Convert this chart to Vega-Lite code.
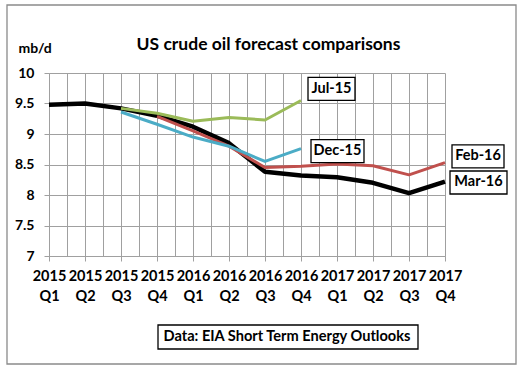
{
  "$schema": "https://vega.github.io/schema/vega-lite/v6.json",
  "width": 396,
  "height": 183,
  "autosize": {"type": "none"},
  "padding": {"left": 49, "top": 73, "right": 79, "bottom": 116},
  "background": "white",
  "title": {"text": "US crude oil forecast comparisons", "font": "Lato", "fontSize": 17.5, "fontWeight": "bold", "color": "black", "anchor": "middle", "frame": "group", "dx": 21.5, "baseline": "alphabetic", "offset": -65},
  "config": {"view": {"stroke": null}, "font": "Lato"},
  "datasets": {
    "forecasts": [
      {"series": "Mar-16", "period": 2015, "mbd": 9.48},
      {"series": "Mar-16", "period": 2015.25, "mbd": 9.5},
      {"series": "Mar-16", "period": 2015.5, "mbd": 9.42},
      {"series": "Mar-16", "period": 2015.75, "mbd": 9.3},
      {"series": "Mar-16", "period": 2016, "mbd": 9.12},
      {"series": "Mar-16", "period": 2016.25, "mbd": 8.85},
      {"series": "Mar-16", "period": 2016.5, "mbd": 8.38},
      {"series": "Mar-16", "period": 2016.75, "mbd": 8.32},
      {"series": "Mar-16", "period": 2017, "mbd": 8.29},
      {"series": "Mar-16", "period": 2017.25, "mbd": 8.2},
      {"series": "Mar-16", "period": 2017.5, "mbd": 8.03},
      {"series": "Mar-16", "period": 2017.75, "mbd": 8.22},
      {"series": "Feb-16", "period": 2015.75, "mbd": 9.29},
      {"series": "Feb-16", "period": 2016, "mbd": 9.05},
      {"series": "Feb-16", "period": 2016.25, "mbd": 8.8},
      {"series": "Feb-16", "period": 2016.5, "mbd": 8.45},
      {"series": "Feb-16", "period": 2016.75, "mbd": 8.47},
      {"series": "Feb-16", "period": 2017, "mbd": 8.51},
      {"series": "Feb-16", "period": 2017.25, "mbd": 8.48},
      {"series": "Feb-16", "period": 2017.5, "mbd": 8.33},
      {"series": "Feb-16", "period": 2017.75, "mbd": 8.53},
      {"series": "Dec-15", "period": 2015.5, "mbd": 9.36},
      {"series": "Dec-15", "period": 2015.75, "mbd": 9.16},
      {"series": "Dec-15", "period": 2016, "mbd": 8.95},
      {"series": "Dec-15", "period": 2016.25, "mbd": 8.8},
      {"series": "Dec-15", "period": 2016.5, "mbd": 8.55},
      {"series": "Dec-15", "period": 2016.75, "mbd": 8.76},
      {"series": "Jul-15", "period": 2015.5, "mbd": 9.42},
      {"series": "Jul-15", "period": 2015.75, "mbd": 9.34},
      {"series": "Jul-15", "period": 2016, "mbd": 9.21},
      {"series": "Jul-15", "period": 2016.25, "mbd": 9.27},
      {"series": "Jul-15", "period": 2016.5, "mbd": 9.23},
      {"series": "Jul-15", "period": 2016.75, "mbd": 9.55}
    ],
    "notes": [{"note": "Data: EIA Short Term Energy Outlooks"}]
  },
  "layer": [
    {
      "data": {"name": "notes"},
      "mark": {"type": "point", "shape": "M-1.41783,-1H1.41783V1H-1.41783Z", "size": 128881, "filled": false, "stroke": "#8a8a8a", "strokeWidth": 1.3, "opacity": 1, "xOffset": 14.5, "yOffset": 20}
    },
    {
      "data": {"name": "notes"},
      "mark": {"type": "point", "shape": "M-10.833,-1H10.833V1H-10.833Z", "size": 576, "filled": true, "fill": "white", "stroke": "black", "strokeWidth": 1.3, "opacity": 1, "xOffset": 41, "yOffset": 172.5}
    },
    {
      "data": {"name": "notes"},
      "mark": {"type": "text", "font": "Lato", "fontSize": 14.6, "fontWeight": "bold", "color": "black", "align": "center", "baseline": "middle", "dx": 40, "dy": 172.5},
      "encoding": {"text": {"field": "note"}}
    },
    {
      "data": {"name": "forecasts"},
      "encoding": {
        "x": {
          "field": "period", "type": "quantitative",
          "scale": {"domain": [2015, 2017.75], "nice": false, "zero": false},
          "axis": {
            "values": [2015, 2015.125, 2015.25, 2015.375, 2015.5, 2015.625, 2015.75, 2015.875, 2016, 2016.125, 2016.25, 2016.375, 2016.5, 2016.625, 2016.75, 2016.875, 2017, 2017.125, 2017.25, 2017.375, 2017.5, 2017.625, 2017.75],
            "grid": true, "gridColor": "#a0a0a0", "gridWidth": 1,
            "domainColor": "#a0a0a0", "tickColor": "#a0a0a0", "tickSize": 5,
            "tickOpacity": {"condition": {"test": "(datum.value * 4) % 1 != 0", "value": 0}, "value": 1},
            "labelExpr": "(datum.value * 4) % 1 != 0 ? '' : [format(floor(datum.value), 'd'), 'Q' + (round(datum.value * 4) % 4 + 1)]",
            "labelFont": "Lato", "labelFontSize": 14.5, "labelFontWeight": "bold", "labelColor": "black",
            "labelLineHeight": 20, "labelPadding": 8, "labelOverlap": false, "labelFlush": false, "labelBound": false,
            "title": null
          }
        },
        "y": {
          "field": "mbd", "type": "quantitative",
          "scale": {"domain": [7, 10], "nice": false, "zero": false},
          "axis": {
            "values": [7, 7.5, 8, 8.5, 9, 9.5, 10], "format": "~g",
            "grid": true, "gridColor": "#a0a0a0", "gridWidth": 1,
            "domainColor": "#a0a0a0", "tickColor": "#a0a0a0", "tickSize": 5,
            "labelFont": "Lato", "labelFontSize": 14, "labelFontWeight": "bold", "labelColor": "black", "labelPadding": 10,
            "title": "mb/d", "titleAngle": 0, "titleX": -31, "titleY": -21, "titleAlign": "left", "titleBaseline": "alphabetic",
            "titleFont": "Lato", "titleFontSize": 14, "titleFontWeight": "bold", "titleColor": "black"
          }
        }
      },
      "layer": [
        {
          "mark": {"type": "line", "strokeJoin": "round"},
          "encoding": {
            "color": {"field": "series", "type": "nominal", "scale": {"domain": ["Mar-16", "Feb-16", "Dec-15", "Jul-15"], "range": ["#000000", "#C0504D", "#4BACC6", "#9BBB59"]}, "legend": null},
            "strokeWidth": {"condition": {"test": "datum.series == 'Mar-16'", "value": 4.5}, "value": 3}
          }
        },
        {
          "transform": [{"filter": "datum.series == 'Jul-15' && datum.period == 2016.75"}],
          "layer": [
            {"mark": {"type": "point", "shape": "M-2.043,-1H2.043V1H-2.043Z", "size": 529, "filled": true, "fill": "white", "stroke": "black", "strokeWidth": 1.3, "opacity": 1, "xOffset": 30.5, "yOffset": -11.5}},
            {"mark": {"type": "text", "font": "Lato", "fontSize": 14.5, "fontWeight": "bold", "color": "black", "align": "center", "baseline": "middle", "dx": 30.5, "dy": -11.5}, "encoding": {"text": {"field": "series"}}}
          ]
        },
        {
          "transform": [{"filter": "datum.series == 'Dec-15' && datum.period == 2016.75"}],
          "layer": [
            {"mark": {"type": "point", "shape": "M-2.304,-1H2.304V1H-2.304Z", "size": 529, "filled": true, "fill": "white", "stroke": "black", "strokeWidth": 1.3, "opacity": 1, "xOffset": 36.5, "yOffset": 2.4}},
            {"mark": {"type": "text", "font": "Lato", "fontSize": 14.5, "fontWeight": "bold", "color": "black", "align": "center", "baseline": "middle", "dx": 36.5, "dy": 2.4}, "encoding": {"text": {"field": "series"}}}
          ]
        },
        {
          "transform": [{"filter": "datum.series == 'Feb-16' && datum.period == 2017.75"}],
          "layer": [
            {"mark": {"type": "point", "shape": "M-2.261,-1H2.261V1H-2.261Z", "size": 529, "filled": true, "fill": "white", "stroke": "black", "strokeWidth": 1.3, "opacity": 1, "xOffset": 33, "yOffset": -6.2}},
            {"mark": {"type": "text", "font": "Lato", "fontSize": 14.5, "fontWeight": "bold", "color": "black", "align": "center", "baseline": "middle", "dx": 33, "dy": -6.2}, "encoding": {"text": {"field": "series"}}}
          ]
        },
        {
          "transform": [{"filter": "datum.series == 'Mar-16' && datum.period == 2017.75"}],
          "layer": [
            {"mark": {"type": "point", "shape": "M-2.478,-1H2.478V1H-2.478Z", "size": 529, "filled": true, "fill": "white", "stroke": "black", "strokeWidth": 1.3, "opacity": 1, "xOffset": 33.5, "yOffset": 0.9}},
            {"mark": {"type": "text", "font": "Lato", "fontSize": 14.5, "fontWeight": "bold", "color": "black", "align": "center", "baseline": "middle", "dx": 33.5, "dy": 0.9}, "encoding": {"text": {"field": "series"}}}
          ]
        }
      ]
    }
  ]
}
